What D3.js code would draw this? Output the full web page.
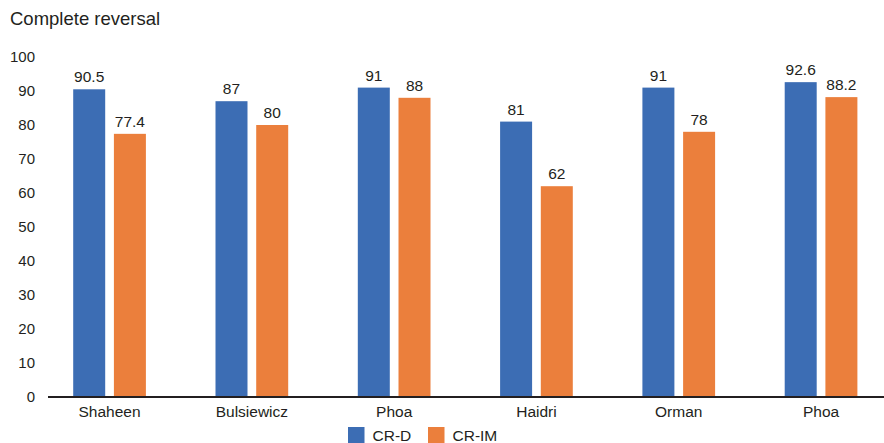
<!DOCTYPE html>
<html>
<head>
<meta charset="utf-8">
<script src="https://cdn.jsdelivr.net/npm/d3@7"></script>
<style>
  html, body { margin: 0; padding: 0; background: #fff; }
  svg { display: block; font-family: "Liberation Sans", Arial, Helvetica, sans-serif; }
</style>
</head>
<body>
<svg id="chart" width="884" height="443"></svg>
<script>
// Study names along the x axis
const studies = ["Shaheen", "Bulsiewicz", "Phoa", "Haidri", "Orman", "Phoa"];
// Complete reversal rates (%)
const crD  = [90.5, 87, 91, 81, 91, 92.6];
const crIM = [77.4, 80, 88, 62, 78, 88.2];
const seriesNames = ["CR-D", "CR-IM"];
const seriesColors = ["#3c6db4", "#eb7f3c"];
const yTicks = [0, 10, 20, 30, 40, 50, 60, 70, 80, 90, 100];

const svg = d3.select("#chart");
const W = 884;

// Each group gets a unique key so the repeated "Phoa" stays separate
const keys = studies.map((s, i) => i);
const rows = keys.map(i => ({ key: i, name: studies[i], values: [crD[i], crIM[i]] }));

const x0 = d3.scaleBand().domain(keys).range([38.4, 892.2]).paddingInner(0).paddingOuter(0);
const x1 = d3.scaleBand().domain(seriesNames).range([0, x0.bandwidth()])
  .paddingInner(0.214).paddingOuter(0.855);
const y = d3.scaleLinear().domain([0, 100]).range([397, 57]);

// Title
svg.append("text")
  .attr("x", 10).attr("y", 25)
  .attr("font-size", 18.5).attr("fill", "#231f20")
  .text("Complete reversal");

// Y axis labels (no axis line)
const yAxis = d3.axisLeft(y).tickValues(yTicks).tickSize(0).tickPadding(0);
const yg = svg.append("g").attr("transform", "translate(35,0)").call(yAxis);
yg.select(".domain").remove();
yg.selectAll("text").attr("font-size", 15).attr("fill", "#231f20")
  .attr("font-family", "Liberation Sans, Arial, sans-serif");

// Bars
const groups = svg.append("g").selectAll("g").data(rows).join("g")
  .attr("transform", d => `translate(${x0(d.key)},0)`);

groups.selectAll("rect")
  .data(d => d.values.map((v, j) => ({ s: seriesNames[j], v, j })))
  .join("rect")
  .attr("x", d => x1(d.s))
  .attr("width", x1.bandwidth())
  .attr("y", d => y(d.v))
  .attr("height", d => y(0) - y(d.v))
  .attr("fill", d => seriesColors[d.j]);

// Value labels
groups.selectAll("text.val")
  .data(d => d.values.map((v, j) => ({ s: seriesNames[j], v, j })))
  .join("text")
  .attr("class", "val")
  .attr("x", d => x1(d.s) + x1.bandwidth() / 2)
  .attr("y", d => y(d.v) - 7)
  .attr("text-anchor", "middle")
  .attr("font-size", 15.5).attr("fill", "#231f20")
  .text(d => d.v);

// X axis baseline and category labels
const xAxis = d3.axisBottom(x0).tickSize(0).tickPadding(0).tickFormat(i => studies[i]);
const xg = svg.append("g").attr("transform", `translate(0,${y(0)})`).call(xAxis);
xg.select(".domain").remove();
xg.selectAll("text").attr("font-size", 15.5).attr("fill", "#231f20")
  .attr("dy", 0).attr("y", 20)
  .attr("font-family", "Liberation Sans, Arial, sans-serif");
svg.append("line")
  .attr("x1", 48).attr("x2", W)
  .attr("y1", y(0)).attr("y2", y(0))
  .attr("stroke", "#231f20").attr("stroke-width", 2);

// Legend
const legend = svg.append("g");
const legendX = [348, 428];
seriesNames.forEach((n, j) => {
  legend.append("rect")
    .attr("x", legendX[j]).attr("y", 427)
    .attr("width", 16.5).attr("height", 16.5)
    .attr("fill", seriesColors[j]);
  legend.append("text")
    .attr("x", legendX[j] + 24.5).attr("y", 440.5)
    .attr("font-size", 15.5).attr("fill", "#231f20")
    .text(n);
});
</script>
</body>
</html>
